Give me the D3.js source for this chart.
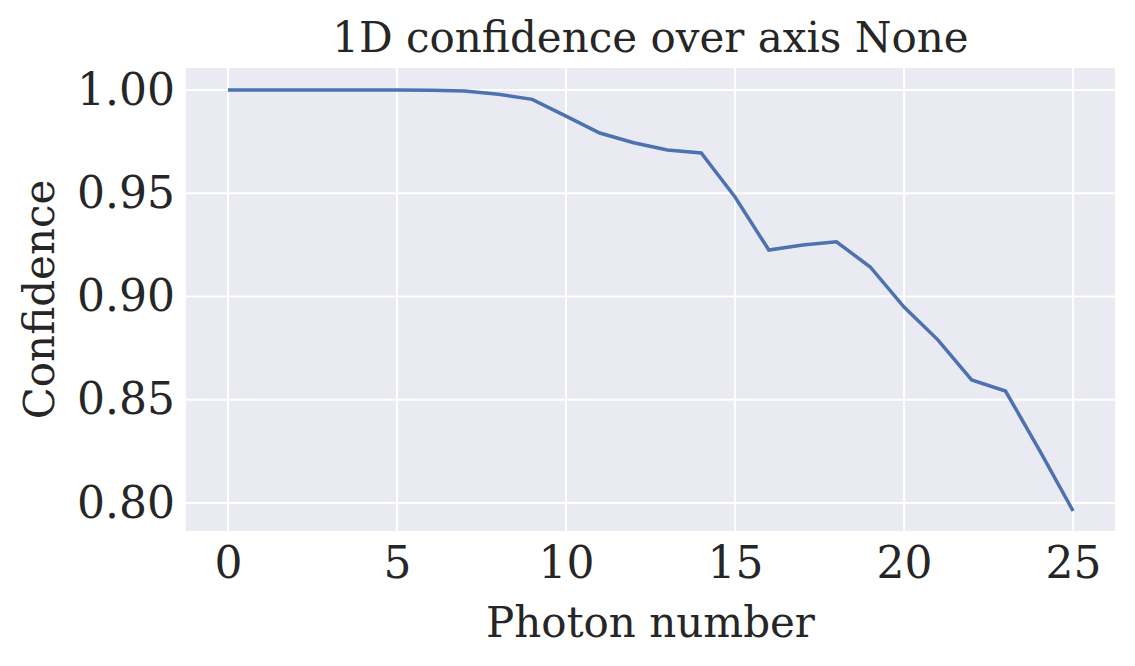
<!DOCTYPE html>
<html><head><meta charset="utf-8">
<script src="https://cdn.jsdelivr.net/npm/d3@7"></script>
<style>body{margin:0;background:#fff}text{font-family:"DejaVu Serif",serif;fill:#262626}</style>
</head><body><svg id="c" width="1135" height="666"></svg>
<script>
const photons = d3.range(0, 26);
const confidence = [1.0,1.0,1.0,1.0,1.0,1.0,0.9999,0.9995,0.998,0.9955,0.9874,0.9792,0.9745,0.971,0.9695,0.9482,0.9225,0.925,0.9265,0.9143,0.8949,0.879,0.8596,0.8542,0.8257,0.7961];
const xTicks = [0,5,10,15,20,25];
const yTicks = [0.80,0.85,0.90,0.95,1.00];

const svg = d3.select("#c");
const L=186,R=1115,T=68,B=531;
const x = d3.scaleLinear().domain([-1.24,26.24]).range([L,R]);
const y = d3.scaleLinear().domain([0.7864,1.0107]).range([B,T]);
svg.append("rect").attr("x",L).attr("y",T).attr("width",R-L).attr("height",B-T).attr("fill","#EAEAF2");
const g=svg.append("g");
g.selectAll(".vx").data(xTicks).join("line").attr("x1",d=>x(d)).attr("x2",d=>x(d)).attr("y1",T).attr("y2",B).attr("stroke","#fff").attr("stroke-width",2);
g.selectAll(".hy").data(yTicks).join("line").attr("y1",d=>y(d)).attr("y2",d=>y(d)).attr("x1",L).attr("x2",R).attr("stroke","#fff").attr("stroke-width",2);
svg.append("g").attr("transform",`translate(0,${B})`).call(d3.axisBottom(x).tickValues(xTicks).tickSize(0).tickPadding(16))
  .call(a=>a.select(".domain").remove()).selectAll("text").style("font-size","44px").attr("font-family","DejaVu Serif").attr("fill","#262626");
svg.append("g").attr("transform",`translate(${L},0)`).call(d3.axisLeft(y).tickValues(yTicks).tickFormat(d3.format(".2f")).tickSize(0).tickPadding(11))
  .call(a=>a.select(".domain").remove()).selectAll("text").style("font-size","44px").attr("font-family","DejaVu Serif").attr("fill","#262626");
svg.append("path").datum(photons).attr("fill","none").attr("stroke","#4C72B0").attr("stroke-width",3.5)
  .attr("d",d3.line().x(d=>x(d)).y((d,i)=>y(confidence[i])));
svg.append("text").attr("x",(L+R)/2).attr("y",52).attr("text-anchor","middle").style("font-size","42px").text("1D confidence over axis None");
svg.append("text").attr("x",(L+R)/2).attr("y",637).attr("text-anchor","middle").style("font-size","42px").text("Photon number");
svg.append("text").attr("transform",`translate(54,${(T+B)/2}) rotate(-90)`).attr("text-anchor","middle").style("font-size","42px").text("Confidence");
</script></body></html>
